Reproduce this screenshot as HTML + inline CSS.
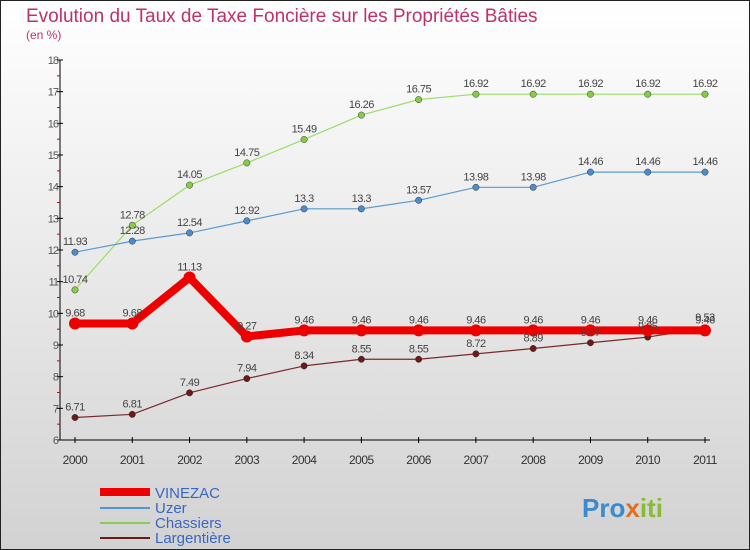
<!DOCTYPE html>
<html><head><meta charset="utf-8"><style>
body{margin:0;width:750px;height:550px;overflow:hidden;font-family:"Liberation Sans",sans-serif}
svg{display:block}
</style></head><body>
<svg width="750" height="550" xmlns="http://www.w3.org/2000/svg">
<defs><linearGradient id="bg" x1="0" y1="0" x2="0" y2="1"><stop offset="0" stop-color="#ffffff"/><stop offset="1" stop-color="#d2d2d2"/></linearGradient></defs>
<rect x="0.5" y="0.5" width="749" height="549" fill="url(#bg)" stroke="#222"/>
<text x="26" y="22" font-size="19" fill="#c0306a">Evolution du Taux de Taxe Foncière sur les Propriétés Bâties</text>
<text x="26" y="39" font-size="12" fill="#c0306a">(en %)</text>
<g id="axes"></g><g id="series"></g><g id="labels"></g>
<g font-size="15">
<line x1="100" y1="492" x2="150" y2="492" stroke="#ee0000" stroke-width="8"/>
<text x="155" y="498" fill="#3a66c4">VINEZAC</text>
<line x1="100" y1="508" x2="150" y2="508" stroke="#5597cc" stroke-width="2"/>
<text x="155" y="513" fill="#3a66c4">Uzer</text>
<line x1="100" y1="523" x2="150" y2="523" stroke="#88cc55" stroke-width="2"/>
<text x="155" y="528" fill="#3a66c4">Chassiers</text>
<line x1="100" y1="538" x2="150" y2="538" stroke="#6b1a1a" stroke-width="2"/>
<text x="155" y="543" fill="#3a66c4">Largentière</text>
</g>
<text x="582" y="517" font-size="26" font-weight="bold" fill="#3a8ad0">Pro<tspan fill="#e07020">x</tspan><tspan fill="#88bb33">iti</tspan></text>
</svg>
<script>
const years=[2000,2001,2002,2003,2004,2005,2006,2007,2008,2009,2010,2011];
const vinezac=[9.68,9.68,11.13,9.27,9.46,9.46,9.46,9.46,9.46,9.46,9.46,9.46];
const uzer=[11.93,12.28,12.54,12.92,13.3,13.3,13.57,13.98,13.98,14.46,14.46,14.46];
const chassiers=[10.74,12.78,14.05,14.75,15.49,16.26,16.75,16.92,16.92,16.92,16.92,16.92];
const largentiere=[6.71,6.81,7.49,7.94,8.34,8.55,8.55,8.72,8.89,9.07,9.25,9.53];
const yTicks=[6,7,8,9,10,11,12,13,14,15,16,17,18];
const NS="http://www.w3.org/2000/svg";
const x=i=>75+i*(630/11);
const y=v=>440-(v-6)*(380/12);
function mk(tag,attrs,parent){const e=document.createElementNS(NS,tag);for(const k in attrs)e.setAttribute(k,attrs[k]);document.getElementById(parent).appendChild(e);return e;}
let a=mk('line',{x1:60,y1:60,x2:60,y2:440,stroke:'#000'},'axes');


a=mk('line',{x1:60,y1:440,x2:710,y2:440,stroke:'#000'},'axes');


yTicks.forEach(t=>{
 let l=mk('line',{x1:57,y1:y(t),x2:63,y2:y(t),stroke:'#000'},'axes');
 
 
 if(t<18){let m=mk('line',{x1:57,y1:y(t+0.5),x2:60,y2:y(t+0.5),stroke:'#d00'},'axes');
 
 }
 let tx=mk('text',{x:58,y:y(t)+4,'font-size':11,'text-anchor':'end',fill:'#555','letter-spacing':'-1'},'axes');
 tx.textContent=t;
 
 
});
years.forEach((yr,i)=>{
 let l=mk('line',{x1:x(i),y1:437,x2:x(i),y2:443,stroke:'#000'},'axes');
 
 
 let tx=mk('text',{x:x(i),y:464,'font-size':12,'text-anchor':'middle',fill:'#333','letter-spacing':'-0.5'},'axes');
 tx.textContent=yr;
 
 
});
function series(vals,color,w,r,name,fill){
 let p=mk('polyline',{points:vals.map((v,i)=>x(i)+','+y(v)).join(' '),fill:'none',stroke:color,'stroke-width':w,'stroke-linejoin':'round'},'series');
 
 
 vals.forEach((v,i)=>{
  let c=mk('circle',{cx:x(i),cy:y(v),r:r,fill:fill,stroke:'#333','stroke-width':w>3?0:0.5},'series');
  
  
  let t=mk('text',{x:x(i),y:y(v)-7,'font-size':11,'text-anchor':'middle',fill:'#444','letter-spacing':'-0.5'},'labels');
  t.textContent=v;
  
  
 });
}
series(chassiers,'#99dd66',1.2,3.2,'chassiers','#88cc44');
series(uzer,'#5a9ad0',1.2,3.2,'uzer','#4a8ccc');
series(largentiere,'#7a2a2a',1.2,3.2,'largentiere','#6b1a1a');
series(vinezac,'#ee0000',8,6,'vinezac','#ee0000');
</script>
</body></html>
